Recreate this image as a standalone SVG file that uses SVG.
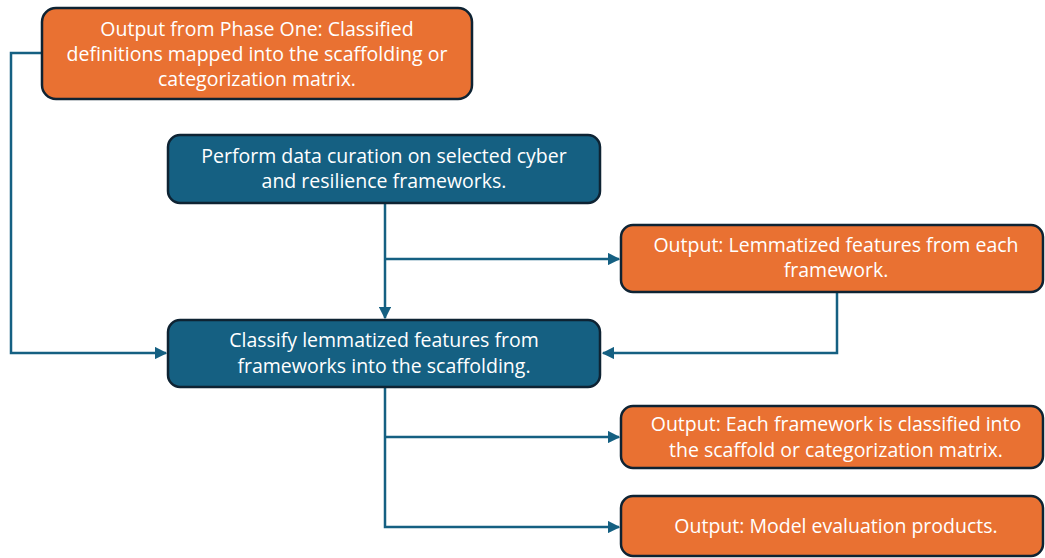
<svg xmlns="http://www.w3.org/2000/svg" width="1045" height="558" viewBox="0 0 1045 558">
  <style>
    .box-out { fill: #E97132; stroke: #0E2333; stroke-width: 2.5; }
    .box-step { fill: #156082; stroke: #0E2333; stroke-width: 2.5; }
    .label { font-family: "Open Sans", "Liberation Sans", sans-serif; font-size: 19.5px; fill: #FFFFFF; text-anchor: middle; }
    .wire { fill: none; stroke: #156082; stroke-width: 2.5; }
  </style>
  <defs>
    <marker id="arrow" viewBox="0 0 10 10" refX="9" refY="5" markerWidth="5" markerHeight="5" orient="auto" markerUnits="strokeWidth">
      <path d="M0,0 L10,5 L0,10 z" fill="#156082"/>
    </marker>
  </defs>
  <rect width="1045" height="558" fill="#FFFFFF"/>

  <g id="connectors">
    <!-- phase one output into classification -->
    <path class="wire" d="M42,53 H11 V353 H166" marker-end="url(#arrow)"/>
    <!-- curation down to classification -->
    <path class="wire" d="M385,204 V318" marker-end="url(#arrow)"/>
    <!-- curation branch to lemmatized output -->
    <path class="wire" d="M385,259 H619" marker-end="url(#arrow)"/>
    <!-- lemmatized output back into classification -->
    <path class="wire" d="M837,293 V353 H603" marker-end="url(#arrow)"/>
    <!-- classification down to outputs -->
    <path class="wire" d="M385,388 V527 H619" marker-end="url(#arrow)"/>
    <path class="wire" d="M385,437 H619" marker-end="url(#arrow)"/>
  </g>

  <g id="phase-one-output">
    <rect class="box-out" x="42" y="8" width="430" height="91" rx="14"/>
    <text class="label" x="257" y="36">Output from Phase One: Classified</text>
    <text class="label" x="257" y="61">definitions mapped into the scaffolding or</text>
    <text class="label" x="257" y="86">categorization matrix.</text>
  </g>

  <g id="data-curation">
    <rect class="box-step" x="168" y="135" width="432" height="68" rx="12"/>
    <text class="label" x="384" y="163">Perform data curation on selected cyber</text>
    <text class="label" x="384" y="188">and resilience frameworks.</text>
  </g>

  <g id="lemmatized-output">
    <rect class="box-out" x="621" y="225" width="422" height="67" rx="12"/>
    <text class="label" x="836" y="252">Output: Lemmatized features from each</text>
    <text class="label" x="836" y="277">framework.</text>
  </g>

  <g id="classify">
    <rect class="box-step" x="168" y="320" width="432" height="67" rx="12"/>
    <text class="label" x="384" y="347">Classify lemmatized features from</text>
    <text class="label" x="384" y="373">frameworks into the scaffolding.</text>
  </g>

  <g id="classified-output">
    <rect class="box-out" x="621" y="406" width="422" height="62" rx="12"/>
    <text class="label" x="836" y="431">Output: Each framework is classified into</text>
    <text class="label" x="836" y="457">the scaffold or categorization matrix.</text>
  </g>

  <g id="evaluation-output">
    <rect class="box-out" x="621" y="496" width="422" height="60" rx="12"/>
    <text class="label" x="836" y="533">Output: Model evaluation products.</text>
  </g>
</svg>
